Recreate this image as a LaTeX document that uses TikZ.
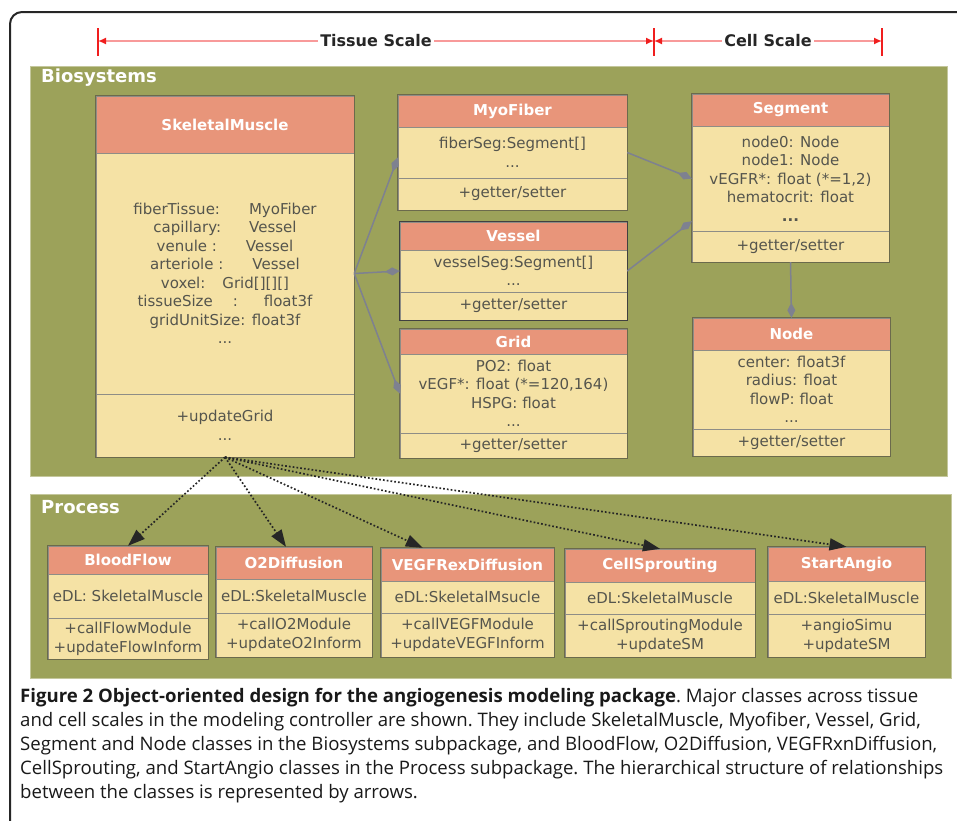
\documentclass[tikz,border=0pt]{standalone}
\usepackage{fontspec}
\setmainfont{DejaVu Sans}
\newfontfamily\capfont{Open Sans}
\usetikzlibrary{arrows.meta}

\definecolor{panelgreen}{HTML}{9CA25A}
\definecolor{headfill}{HTML}{E8957A}
\definecolor{bodyfill}{HTML}{F5E2A5}
\definecolor{boxline}{HTML}{6B6A4C}
\definecolor{divline}{HTML}{8E8D86}
\definecolor{txtgray}{HTML}{55554D}
\definecolor{linkgray}{HTML}{7E8190}
\definecolor{scalered}{HTML}{F01E1E}

\begin{document}
\begin{tikzpicture}[x=1pt, y=-1pt,
    panel/.style={fill=panelgreen, draw=panelgreen!60!white, line width=0.8pt},
    panelname/.style={text=white, font=\fontsize{18}{20}\selectfont\bfseries, anchor=west, inner sep=0pt},
    scalelabel/.style={fill=white, text=black!85, font=\fontsize{16}{18}\selectfont\bfseries, inner sep=2pt},
    scaleline/.style={draw=scalered!45, line width=1.5pt, {Latex[length=8pt,width=7pt,color=scalered]}-{Latex[length=8pt,width=7pt,color=scalered]}},
    tick/.style={draw=scalered, line width=1.5pt},
    head/.style={draw=divline, fill=headfill, text=white, font=\fontsize{15}{18}\selectfont\bfseries, inner sep=0pt},
    attr/.style={draw=divline, fill=bodyfill, text=txtgray, font=\fontsize{15}{18.5}\selectfont, align=center, inner sep=0pt},
    border/.style={draw=boxline, line width=1.2pt},
    comp/.style={draw=linkgray, line width=1.5pt, -{Diamond[length=15pt,width=8pt]}},
    calls/.style={draw=black!85, line width=1.7pt, dash pattern=on 1.7pt off 2.1pt, -{Triangle[length=17pt,width=12pt]}}]
    \useasboundingbox (0,0) rectangle (957,820);
    \draw[line width=2pt, draw=black!85, rounded corners=12pt] (10,840) -- (10,12) -- (980,12);

    % Scale bar
    \coordinate (tL) at (98,41); \coordinate (tM) at (654,41); \coordinate (tR) at (882,41);
    \draw[scaleline] (tL) -- (tM); \draw[scaleline] (tM) -- (tR);
    \draw[tick] ([yshift=13pt]tL) -- ([yshift=-15pt]tL);
    \draw[tick] ([yshift=13pt]tM) -- ([yshift=-15pt]tM);
    \draw[tick] ([yshift=13pt]tR) -- ([yshift=-15pt]tR);
    \node[scalelabel] (tissue) at (376,41) {Tissue Scale};
    \node[scalelabel] (cell) at (768,41) {Cell Scale};

    % Packages
    \fill[panel] (30,66) rectangle (947,476);
    \fill[panel] (30,494) rectangle (951,678);
    \node[panelname] (bio) at (41,78) {Biosystems};
    \node[panelname] (proc) at (41,507) {Process};

    % Biosystems classes
    \node[head, minimum width=258pt, minimum height=57pt] (SMh) at (225,124.5) {SkeletalMuscle};
    \node[attr, minimum width=258pt, minimum height=241pt] (SMa) at (225,273.5) {fiberTissue:\hspace{29pt}MyoFiber\\
        capillary:\hspace{28pt}Vessel\\ venule :\hspace{29pt}Vessel\\ arteriole :\hspace{29pt}Vessel\\
        voxel:\hspace{17pt}Grid[][][]\\ tissueSize\hspace{20pt}:\hspace{26pt}float3f\\ gridUnitSize: float3f\\ ...};
    \node[attr, minimum width=258pt, minimum height=63pt] (SMm) at (225,425.5) {+updateGrid\\ ...};

    \node[head, minimum width=229pt, minimum height=32pt] (MFh) at (512.5,111) {MyoFiber};
    \node[attr, minimum width=229pt, minimum height=51pt] (MFa) at (512.5,152.5) {fiberSeg:Segment[]\\ ...};
    \node[attr, minimum width=229pt, minimum height=32pt] (MFm) at (512.5,194) {+getter/setter};

    \node[head, minimum width=227pt, minimum height=28pt] (VSh) at (513.5,236) {Vessel};
    \node[attr, minimum width=227pt, minimum height=42pt] (VSa) at (513.5,271) {vesselSeg:Segment[]\\ ...};
    \node[attr, minimum width=227pt, minimum height=28pt] (VSm) at (513.5,306) {+getter/setter};

    \node[head, minimum width=227pt, minimum height=25pt] (GRh) at (513.5,341.5) {Grid};
    \node[attr, minimum width=227pt, minimum height=79pt] (GRa) at (513.5,393.5) {PO2: float\\ vEGF*: float (*=120,164)\\ HSPG: float\\ ...};
    \node[attr, minimum width=227pt, minimum height=25pt] (GRm) at (513.5,445.5) {+getter/setter};

    \node[head, minimum width=197pt, minimum height=32pt] (SGh) at (790.5,110) {Segment};
    \node[attr, minimum width=197pt, minimum height=105pt] (SGa) at (790.5,178.5) {node0: Node\\ node1: Node\\ vEGFR*: float (*=1,2)\\ hematocrit: float\\ \textbf{...}};
    \node[attr, minimum width=197pt, minimum height=31pt] (SGm) at (790.5,246.5) {+getter/setter};

    \node[head, minimum width=197pt, minimum height=32pt] (NDh) at (791.5,334) {Node};
    \node[attr, minimum width=197pt, minimum height=79pt] (NDa) at (791.5,389.5) {center: float3f\\ radius: float\\ flowP: float\\ ...};
    \node[attr, minimum width=197pt, minimum height=27pt] (NDm) at (791.5,442.5) {+getter/setter};

    % Process classes
    \node[head, minimum width=160pt, minimum height=28pt] (BFh) at (128,560) {BloodFlow};
    \node[attr, minimum width=160pt, minimum height=44pt] (BFa) at (128,596) {eDL: SkeletalMuscle};
    \node[attr, minimum width=160pt, minimum height=41pt, font=\fontsize{15}{19}\selectfont] (BFm) at (128,638.5) {+callFlowModule\\ +updateFlowInform};

    \node[head, minimum width=156pt, minimum height=32pt] (O2h) at (294,563) {O2Diffusion};
    \node[attr, minimum width=156pt, minimum height=34pt] (O2a) at (294,596) {eDL:SkeletalMuscle};
    \node[attr, minimum width=156pt, minimum height=44pt, font=\fontsize{15}{19}\selectfont] (O2m) at (294,635) {+callO2Module\\ +updateO2Inform};

    \node[head, minimum width=173pt, minimum height=33pt] (VEh) at (467.5,564.5) {VEGFRexDiffusion};
    \node[attr, minimum width=173pt, minimum height=32pt] (VEa) at (467.5,597) {eDL:SkeletalMsucle};
    \node[attr, minimum width=173pt, minimum height=44pt, font=\fontsize{15}{19}\selectfont] (VEm) at (467.5,635) {+callVEGFModule\\ +updateVEGFInform};

    \node[head, minimum width=190pt, minimum height=33pt] (CSh) at (660,565.5) {CellSprouting};
    \node[attr, minimum width=190pt, minimum height=32pt] (CSa) at (660,598) {eDL:SkeletalMuscle};
    \node[attr, minimum width=190pt, minimum height=43pt, font=\fontsize{15}{19}\selectfont] (CSm) at (660,635.5) {+callSproutingModule\\ +updateSM};

    \node[head, minimum width=157pt, minimum height=34pt] (SAh) at (846.5,564) {StartAngio};
    \node[attr, minimum width=157pt, minimum height=33pt] (SAa) at (846.5,597.5) {eDL:SkeletalMuscle};
    \node[attr, minimum width=157pt, minimum height=43pt, font=\fontsize{15}{19}\selectfont] (SAm) at (846.5,635.5) {+angioSimu\\ +updateSM};

    % Class outlines
    \draw[border] (SMh.north west) rectangle (SMm.south east); \draw[border] (MFh.north west) rectangle (MFm.south east);
    \draw[border, draw=black!75] (VSh.north west) rectangle (VSm.south east); \draw[border] (GRh.north west) rectangle (GRm.south east);
    \draw[border] (SGh.north west) rectangle (SGm.south east); \draw[border] (NDh.north west) rectangle (NDm.south east);
    \draw[border] (BFh.north west) rectangle (BFm.south east); \draw[border] (O2h.north west) rectangle (O2m.south east);
    \draw[border] (VEh.north west) rectangle (VEm.south east); \draw[border] (CSh.north west) rectangle (CSm.south east);
    \draw[border] (SAh.north west) rectangle (SAm.south east);

    % Composition links
    \draw[comp] (SMa.east) -- ([yshift=-5pt]MFa.west); \draw[comp] (SMa.east) -- (VSa.west); \draw[comp] (SMa.east) -- (GRa.west);
    \draw[comp] (MFa.east) -- (SGa.west); \draw[comp] (VSa.east) -- ([yshift=10pt]SGa.south west);
    \draw[comp] (SGm.south) -- (NDh.north);

    % Calls into Process
    \draw[calls] (SMm.south) -- (BFh.north); \draw[calls] (SMm.south) -- ([xshift=-8pt]O2h.north);
    \draw[calls] (SMm.south) -- ([xshift=42pt]VEh.north west);
    \draw[calls] (SMm.south) -- (CSh.north); \draw[calls] (SMm.south) -- (SAh.north);

    % Caption
    \node[anchor=north west, inner sep=0pt, align=left, text=black!90,
        font=\capfont\fontsize{18.6}{24}\selectfont\frenchspacing] (caption) at (20,688)
        {\textbf{Figure 2 Object-oriented design for the angiogenesis modeling package}. Major classes across tissue\\
        and cell scales in the modeling controller are shown. They include SkeletalMuscle, Myofiber, Vessel, Grid,\\
        Segment and Node classes in the Biosystems subpackage, and BloodFlow, O2Diffusion, VEGFRxnDiffusion,\\
        CellSprouting, and StartAngio classes in the Process subpackage. The hierarchical structure of relationships\\
        between the classes is represented by arrows.};
\end{tikzpicture}
\end{document}
